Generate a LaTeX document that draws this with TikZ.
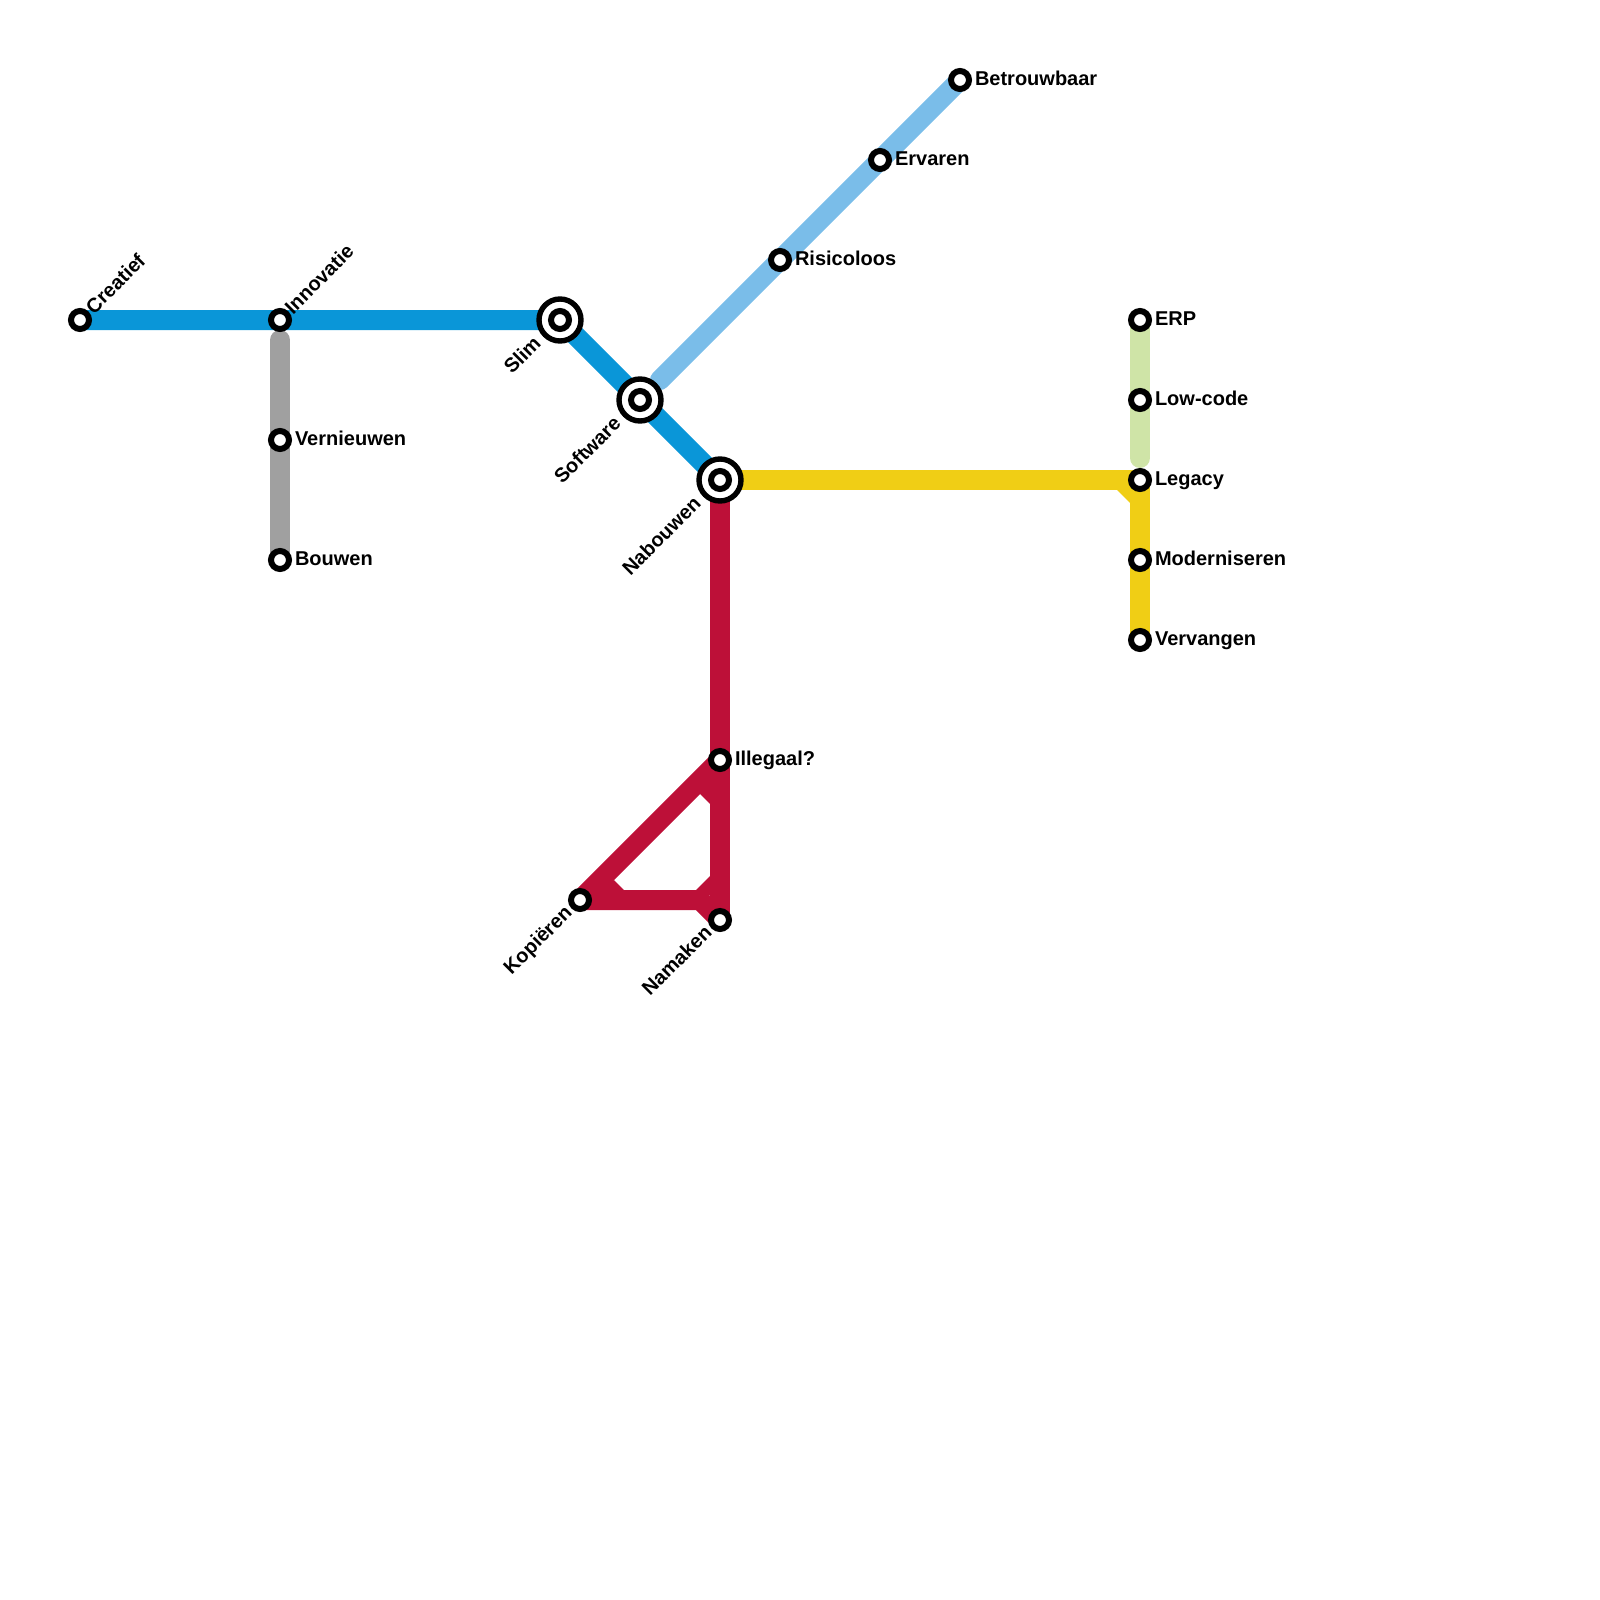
\documentclass[tikz,border=0pt]{standalone}
\usepackage{fontspec}
\setmainfont{Liberation Sans}
\tikzset{
  x=1pt,y=-1pt,
  st/.style={circle,draw=black,fill=white,line width=6pt,minimum size=18pt,inner sep=0pt,outer sep=0pt},
  hub/.style={circle,draw=black,fill=white,line width=5.4pt,minimum size=42pt,inner sep=0pt,outer sep=0pt},
  lab/.style={font=\fontsize{20}{24}\selectfont\bfseries,text=black,inner sep=0pt,outer sep=0pt},
  lr/.style={lab,anchor=base west},
  ur/.style={lab,anchor=base west,rotate=45},
  dl/.style={lab,anchor=base east,rotate=45},
  ln/.style={line width=20pt,line cap=butt,line join=miter},
}
\definecolor{cblue}{HTML}{0A96D8}
\definecolor{clight}{HTML}{7ABDE9}
\definecolor{cgray}{HTML}{A0A0A0}
\definecolor{cgreen}{HTML}{CFE4A7}
\definecolor{cyellow}{HTML}{F0CE15}
\definecolor{cred}{HTML}{BD1038}
\begin{document}
\begin{tikzpicture}
\useasboundingbox (0,0) rectangle (1600,1600);
\coordinate (creatief) at (80,320);
\coordinate (innovatie) at (280,320);
\coordinate (grayTop) at (280,340);
\coordinate (vernieuwen) at (280,440);
\coordinate (bouwen) at (280,560);
\coordinate (slim) at (560,320);
\coordinate (software) at (640,400);
\coordinate (lightStart) at (660,380);
\coordinate (nabouwen) at (720,480);
\coordinate (risicoloos) at (780,260);
\coordinate (ervaren) at (880,160);
\coordinate (betrouwbaar) at (960,80);
\coordinate (erp) at (1140,320);
\coordinate (lowcode) at (1140,400);
\coordinate (greenEnd) at (1140,458);
\coordinate (legacy) at (1140,480);
\coordinate (moderniseren) at (1140,560);
\coordinate (vervangen) at (1140,640);
\coordinate (illegaal) at (720,760);
\coordinate (kopieren) at (580,900);
\coordinate (namaken) at (720,920);
\coordinate (redCorner) at (700,900);
% lines
\draw[ln,clight,line cap=round] (lightStart) -- (betrouwbaar);
\draw[ln,cblue] (creatief) -- (slim) -- (nabouwen);
\draw[ln,cgray,line cap=round] (grayTop) -- (bouwen);
\draw[ln,cyellow] (nabouwen) -- (legacy);
\draw[ln,cyellow] (legacy) -- (vervangen);
\fill[cyellow] (1117,490) -- (1130,503) -- (1135,503) -- (1135,485) -- (1117,485) -- cycle;
\draw[ln,cgreen] (erp) -- (lowcode);
\draw[ln,cgreen,line cap=round] (lowcode) -- (greenEnd);
\draw[ln,cred] (nabouwen) -- (namaken);
\draw[ln,cred] (illegaal) -- (kopieren);
\draw[ln,cred] (kopieren) -- (redCorner) -- (namaken);
\fill[cred] (700,794) -- (710,804) -- (715,804) -- (715,775) -- (695,790) -- cycle;
\fill[cred] (614,880) -- (624,890) -- (624,895) -- (595,895) -- (605,885) -- cycle;
\fill[cred] (710,876) -- (696,890) -- (696,895) -- (715,895) -- (715,876) -- cycle;
% stations
\foreach \p in {creatief,innovatie,vernieuwen,bouwen,risicoloos,ervaren,betrouwbaar,erp,lowcode,legacy,moderniseren,vervangen,illegaal,kopieren,namaken}
  \node[st] (s\p) at (\p) {};
\foreach \p in {slim,software,nabouwen}{
  \node[hub] (h\p) at (\p) {};
  \node[st] (s\p) at (\p) {};
}
% labels
\node[ur] (tcreatief) at (94,315) {Creatief};
\node[ur] (tinnovatie) at (293,315) {Innovatie};
\node[lr] (tvernieuwen) at (295,445.3) {Vernieuwen};
\node[lr] (tbouwen) at (295,565.3) {Bouwen};
\node[lr] (trisicoloos) at (795,265.3) {Risicoloos};
\node[lr] (tervaren) at (895,165.3) {Ervaren};
\node[lr] (tbetrouwbaar) at (975,85.3) {Betrouwbaar};
\node[lr] (terp) at (1155,325.3) {ERP};
\node[lr] (tlowcode) at (1155,405.3) {Low-code};
\node[lr] (tlegacy) at (1155,485.3) {Legacy};
\node[lr] (tmoderniseren) at (1155,565.3) {Moderniseren};
\node[lr] (tvervangen) at (1155,645.3) {Vervangen};
\node[lr] (tillegaal) at (735,765.3) {Illegaal?};
\node[dl] (tslim) at (542,345) {Slim};
\node[dl] (tsoftware) at (622,425) {Software};
\node[dl] (tnabouwen) at (702,505) {Nabouwen};
\node[dl] (tkopieren) at (573,914) {Kopiëren};
\node[dl] (tnamaken) at (713,934) {Namaken};
\end{tikzpicture}
\end{document}
